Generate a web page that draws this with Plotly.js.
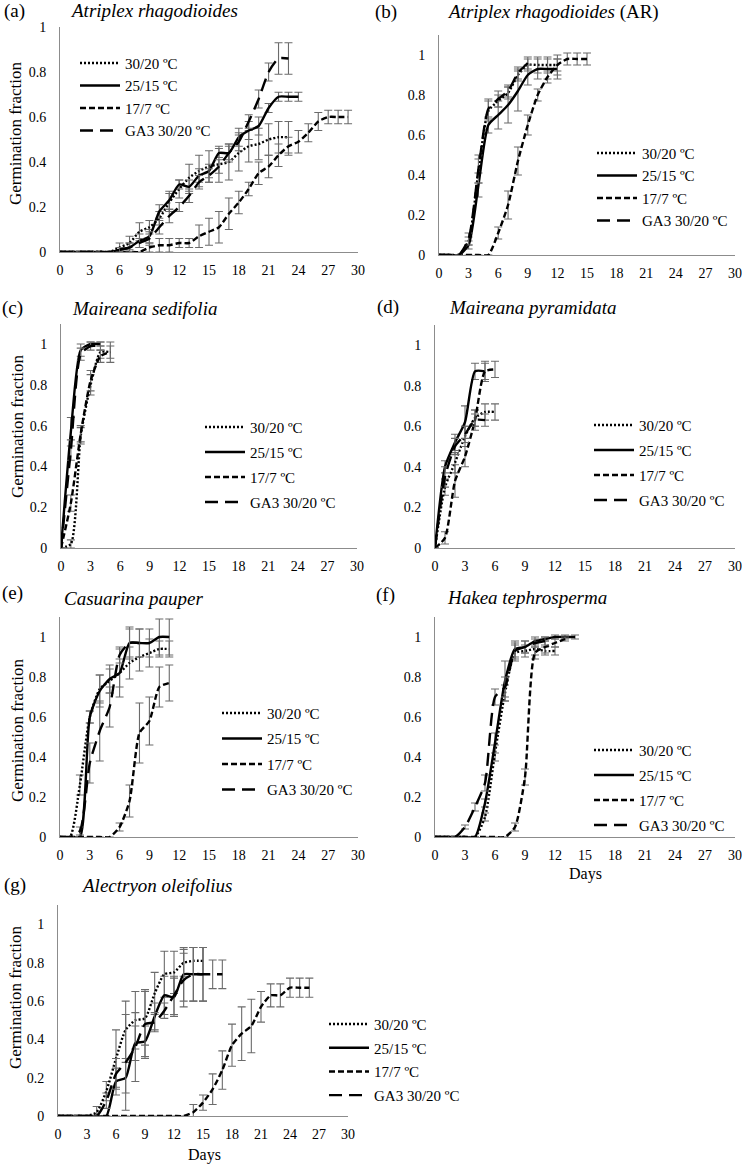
<!DOCTYPE html>
<html>
<head>
<meta charset="utf-8">
<script src="https://cdn.plot.ly/plotly-3.0.1.min.js"></script>
<style>
body { margin: 0; background: #fff; }
#myDiv { width: 742px; height: 1164px; }
</style>
</head>
<body>
<div id="myDiv"></div>
<script>
// days after sowing, shared x values (each series uses the first n)
var days = [0,1,2,3,4,5,6,7,8,9,10,11,12,13,14,15,16,17,18,19,20,21,22,23,24,25,26,27,28,29];
var seriesNames = ['30/20 ºC', '25/15 ºC', '17/7 ºC', 'GA3 30/20 ºC'];
var panelTags = ['(a)', '(b)', '(c)', '(d)', '(e)', '(f)', '(g)'];
var speciesTitles = ['<i>Atriplex rhagodioides</i>', '<i>Atriplex rhagodioides</i> (AR)', '<i>Maireana sedifolia</i>',
  '<i>Maireana pyramidata</i>', '<i>Casuarina pauper</i>', '<i>Hakea tephrosperma</i>', '<i>Alectryon oleifolius</i>'];
var yTickVals = [0, 0.2, 0.4, 0.6, 0.8, 1];
var yTickText = ['0', '0.2', '0.4', '0.6', '0.8', '1'];

// (a) Atriplex rhagodioides
var a3020 = [0,0,0,0,0,0,0.02,0.04,0.09,0.11,0.15,0.22,0.28,0.33,0.36,0.38,0.39,0.40,0.44,0.47,0.48,0.50,0.51,0.51];
var a3020e = [0,0,0,0,0,0,0.02,0.03,0.04,0.03,0.03,0.04,0.04,0.06,0.07,0.07,0.08,0.08,0.08,0.07,0.07,0.07,0.07,0.07];
var a2515 = [0,0,0,0,0,0,0.01,0.02,0.05,0.07,0.18,0.23,0.30,0.29,0.34,0.36,0.44,0.44,0.51,0.54,0.56,0.64,0.69,0.69,0.69];
var a2515e = [0,0,0,0,0,0,0.01,0.02,0.03,0.03,0.03,0.04,0.02,0.03,0.03,0.03,0.02,0.03,0.04,0.04,0.04,0.02,0.02,0.02,0.02];
var a177 = [0,0,0,0,0,0,0,0,0,0.02,0.03,0.03,0.04,0.04,0.07,0.09,0.11,0.17,0.22,0.28,0.35,0.38,0.43,0.47,0.49,0.53,0.58,0.60,0.60,0.60];
var a177e = [0,0,0,0,0,0,0,0,0,0.02,0.03,0.03,0.02,0.02,0.05,0.06,0.07,0.07,0.05,0.03,0.05,0.05,0.05,0.04,0.05,0.04,0.04,0.03,0.03,0.03];
var aGA3 = [0,0,0,0,0,0,0.01,0.02,0.04,0.06,0.11,0.16,0.20,0.25,0.31,0.34,0.38,0.44,0.49,0.58,0.68,0.80,0.86,0.86];
var aGA3e = [0,0,0,0,0,0,0.01,0.02,0.02,0.03,0.03,0.03,0.02,0.03,0.03,0.03,0.03,0.04,0.04,0.03,0.04,0.04,0.07,0.07];

// (b) Atriplex rhagodioides (AR)
var b3020 = [0,0,0,0.07,0.42,0.72,0.77,0.81,0.90,0.95,0.95,0.95,0.95];
var b3020e = [0,0,0,0.02,0.06,0.05,0.03,0.03,0.03,0.03,0.04,0.04,0.05];
var b2515 = [0,0,0,0.05,0.35,0.65,0.70,0.75,0.82,0.90,0.93,0.93,0.93];
var b2515e = [0,0,0,0.02,0.06,0.04,0.07,0.09,0.10,0.05,0.05,0.05,0.05];
var b177 = [0,0,0,0,0,0,0.11,0.25,0.47,0.65,0.80,0.89,0.95,0.98,0.98,0.98];
var b177e = [0,0,0,0,0,0,0.03,0.07,0.07,0.05,0.03,0.03,0.03,0.03,0.03,0.03];
var bGA3 = [0,0,0,0.08,0.43,0.73,0.78,0.82,0.91,0.96];
var bGA3e = [0,0,0,0.03,0.07,0.05,0.04,0.03,0.03,0.03];

// (c) Maireana sedifolia
var c3020 = [0,0.02,0.55,0.80,0.96,0.96];
var c3020e = [0,0.02,0.04,0.05,0.03,0.05];
var c2515 = [0,0.57,0.97,1.0,1.0];
var c2515e = [0,0.07,0.03,0.01,0.01];
var c177 = [0,0.22,0.56,0.82,0.94,0.96];
var c177e = [0,0.04,0.04,0.05,0.03,0.03];
var cGA3 = [0,0.48,0.95,0.99,0.99];
var cGA3e = [0,0.05,0.03,0.02,0.02];

// (d) Maireana pyramidata
var d3020 = [0,0.30,0.42,0.55,0.64,0.67,0.67];
var d3020e = [0,0.04,0.05,0.05,0.04,0.04,0.04];
var d2515 = [0,0.40,0.52,0.62,0.87,0.87];
var d2515e = [0,0.03,0.04,0.08,0.04,0.04];
var d177 = [0,0.05,0.33,0.45,0.63,0.87,0.88];
var d177e = [0,0.03,0.08,0.05,0.05,0.05,0.04];
var dGA3 = [0,0.35,0.50,0.56,0.63,0.63];
var dGA3e = [0,0.05,0.04,0.04,0.03,0.03];

// (e) Casuarina pauper
var e3020 = [0,0,0.26,0.60,0.74,0.78,0.82,0.87,0.90,0.92,0.94,0.94];
var e3020e = [0,0,0.05,0.03,0.07,0.06,0.07,0.08,0.07,0.07,0.04,0.04];
var e2515 = [0,0,0,0.60,0.73,0.79,0.82,0.97,0.97,0.97,1.0,1.0];
var e2515e = [0,0,0,0.03,0.08,0.07,0.12,0.08,0.07,0.07,0.09,0.09];
var e177 = [0,0,0,0,0,0,0.05,0.18,0.52,0.58,0.75,0.77];
var e177e = [0,0,0,0,0,0,0.02,0.08,0.15,0.12,0.10,0.09];
var eGA3 = [0,0,0.03,0.37,0.53,0.65,0.91,0.97,0.97];
var eGA3e = [0,0,0.02,0.10,0.15,0.10,0.04,0.07,0.07];

// (f) Hakea tephrosperma
var f3020 = [0,0,0,0,0,0.10,0.42,0.72,0.92,0.93,0.94,0.93,0.93];
var f3020e = [0,0,0,0,0,0.02,0.04,0.04,0.04,0.03,0.03,0.02,0.02];
var f2515 = [0,0,0,0,0,0.17,0.47,0.78,0.94,0.95,0.98,0.99,1.0,1.0,1.0];
var f2515e = [0,0,0,0,0,0.02,0.05,0.10,0.04,0.03,0.02,0.01,0.01,0.01,0.01];
var f177 = [0,0,0,0,0,0,0,0,0.05,0.30,0.92,0.95,0.97,0.99];
var f177e = [0,0,0,0,0,0,0,0,0.02,0.04,0.03,0.03,0.02,0.01];
var fGA3 = [0,0,0,0.05,0.15,0.27,0.70,0.75,0.93,0.95,0.97,0.98];
var fGA3e = [0,0,0,0.01,0.02,0.04,0.04,0.05,0.04,0.03,0.02,0.02];

// (g) Alectryon oleifolius
var g3020 = [0,0,0,0,0.02,0.13,0.30,0.45,0.50,0.51,0.64,0.74,0.75,0.80,0.81,0.81];
var g3020e = [0,0,0,0,0.03,0.05,0.15,0.15,0.15,0.14,0.11,0.12,0.11,0.07,0.07,0.07];
var g2515 = [0,0,0,0,0,0,0.18,0.20,0.38,0.39,0.52,0.63,0.62,0.74,0.74,0.74];
var g2515e = [0,0,0,0,0,0,0.07,0.08,0.09,0.08,0.07,0.10,0.10,0.14,0.14,0.14];
var g177 = [0,0,0,0,0,0,0,0,0,0,0,0,0,0,0.02,0.07,0.14,0.24,0.37,0.43,0.47,0.57,0.63,0.63,0.67,0.67,0.67];
var g177e = [0,0,0,0,0,0,0,0,0,0,0,0,0,0,0.04,0.04,0.08,0.10,0.11,0.14,0.14,0.08,0.06,0.06,0.05,0.05,0.05];
var gGA3 = [0,0,0,0,0,0.08,0.22,0.28,0.36,0.48,0.49,0.55,0.63,0.71,0.74,0.74,0.74,0.74];
var gGA3e = [0,0,0,0,0,0.04,0.08,0.25,0.18,0.18,0.05,0.04,0.10,0.14,0.14,0.14,0.075,0.075];

var W = 742, H = 1164;
var serif = 'Liberation Serif';
var lineStyles = ['2px,2px', 'solid', '6px,3px', '13px,7px'];

// pixel geometry of each panel (left, right, y of 0, px per unit, y max),
// legend anchor, y-title centre and labels
var panels = [
  {ys: [a3020, a2515, a177, aGA3], es: [a3020e, a2515e, a177e, aGA3e], x0: 60, x1: 358, yb: 252, unit: 225, ymax: 1.0,
   leg: [80, 63, 0], ytitle: [15, 133], tag: [2, 11], name: [68, 11]},
  {ys: [b3020, b2515, b177, bGA3], es: [b3020e, b2515e, b177e, bGA3e], x0: 439, x1: 735, yb: 255, unit: 200, ymax: 1.1,
   leg: [597, 153, 0], ytitle: null, tag: [373, 12], name: [445, 12]},
  {ys: [c3020, c2515, c177, cGA3], es: [c3020e, c2515e, c177e, cGA3e], x0: 61, x1: 357, yb: 548, unit: 204, ymax: 1.1,
   leg: [205, 427, 2.5], ytitle: [17, 426], tag: [0, 308], name: [70, 309]},
  {ys: [d3020, d2515, d177, dGA3], es: [d3020e, d2515e, d177e, dGA3e], x0: 435, x1: 735, yb: 548, unit: 203, ymax: 1.1,
   leg: [594, 425, 2.5], ytitle: null, tag: [375, 307], name: [447, 308]},
  {ys: [e3020, e2515, e177, eGA3], es: [e3020e, e2515e, e177e, eGA3e], x0: 60, x1: 358, yb: 837, unit: 200, ymax: 1.1,
   leg: [222, 713, 3], ytitle: [17, 730], tag: [0, 593], name: [62, 598]},
  {ys: [f3020, f2515, f177, fGA3], es: [f3020e, f2515e, f177e, fGA3e], x0: 435, x1: 735, yb: 837, unit: 200, ymax: 1.1,
   leg: [594, 750, 2.5], ytitle: null, tag: [374, 595], name: [445, 597], days: [585, 874]},
  {ys: [g3020, g2515, g177, gGA3], es: [g3020e, g2515e, g177e, gGA3e], x0: 58, x1: 348, yb: 1116, unit: 191.5, ymax: 1.1,
   leg: [329, 1024, 1.2], ytitle: [15, 997], tag: [2, 885], name: [79, 885], days: [204, 1155]}
];

var data = [];
var layout = {
  width: W, height: H,
  margin: {l: 0, r: 0, t: 0, b: 0},
  paper_bgcolor: '#fff', plot_bgcolor: '#fff',
  font: {family: serif, color: '#000', size: 14},
  showlegend: true,
  annotations: []
};

panels.forEach(function (p, i) {
  var sfx = i === 0 ? '' : String(i + 1);
  var legName = 'legend' + sfx;
  for (var k = 0; k < 4; k++) {
    data.push({
      x: days.slice(0, p.ys[k].length),
      y: p.ys[k],
      name: seriesNames[k],
      type: 'scatter',
      mode: 'lines',
      xaxis: 'x' + sfx,
      yaxis: 'y' + sfx,
      legend: legName,
      legendgroup: 'p' + i + 's' + k,
      cliponaxis: false,
      line: {color: '#000', width: 2.4, dash: lineStyles[k], shape: 'spline', smoothing: 0.6},
      error_y: {type: 'data', array: p.es[k], visible: true, color: '#6b6b6b', thickness: 1.1, width: 4}
    });
  }
  layout['xaxis' + sfx] = {
    domain: [p.x0 / W, p.x1 / W], anchor: 'y' + sfx,
    range: [0, 30], tick0: 0, dtick: 3, ticks: '', ticklabelstandoff: 5, ticklabeloverflow: 'allow',
    showline: true, linecolor: '#8c8c8c', linewidth: 1, showgrid: false, zeroline: false,
    tickfont: {family: serif, size: 14, color: '#000'}, fixedrange: true
  };
  layout['yaxis' + sfx] = {
    domain: [1 - p.yb / H, 1 - (p.yb - p.unit * p.ymax) / H], anchor: 'x' + sfx,
    range: [0, p.ymax], tickvals: yTickVals, ticktext: yTickText, ticks: '', ticklabelstandoff: 10,
    showline: true, linecolor: '#8c8c8c', linewidth: 1, showgrid: false, zeroline: false,
    tickfont: {family: serif, size: 14, color: '#000'}, fixedrange: true
  };
  layout[legName] = {
    x: (p.leg[0] - 5) / W, y: 1 - (p.leg[1] - 16.2) / H, xanchor: 'left', yanchor: 'top',
    bgcolor: 'rgba(0,0,0,0)', borderwidth: 0, itemwidth: 40, tracegroupgap: p.leg[2],
    font: {family: serif, size: 15, color: '#000'}
  };
  layout.annotations.push({
    xref: 'paper', yref: 'paper', x: p.tag[0] / W, y: 1 - p.tag[1] / H, xanchor: 'left', yanchor: 'middle',
    text: panelTags[i], showarrow: false, font: {family: serif, size: 19, color: '#000'}
  });
  layout.annotations.push({
    xref: 'paper', yref: 'paper', x: p.name[0] / W, y: 1 - p.name[1] / H, xanchor: 'left', yanchor: 'middle',
    text: speciesTitles[i], showarrow: false, font: {family: serif, size: 19, color: '#000'}
  });
  if (p.ytitle) {
    layout.annotations.push({
      xref: 'paper', yref: 'paper', x: p.ytitle[0] / W, y: 1 - p.ytitle[1] / H, xanchor: 'center', yanchor: 'middle',
      text: 'Germination fraction', textangle: -90, showarrow: false, font: {family: serif, size: 17, color: '#000'}
    });
  }
  if (p.days) {
    layout.annotations.push({
      xref: 'paper', yref: 'paper', x: p.days[0] / W, y: 1 - p.days[1] / H, xanchor: 'center', yanchor: 'middle',
      text: 'Days', showarrow: false, font: {family: serif, size: 16, color: '#000'}
    });
  }
});

Plotly.newPlot('myDiv', data, layout, {displayModeBar: false, staticPlot: true});
</script>
</body>
</html>
